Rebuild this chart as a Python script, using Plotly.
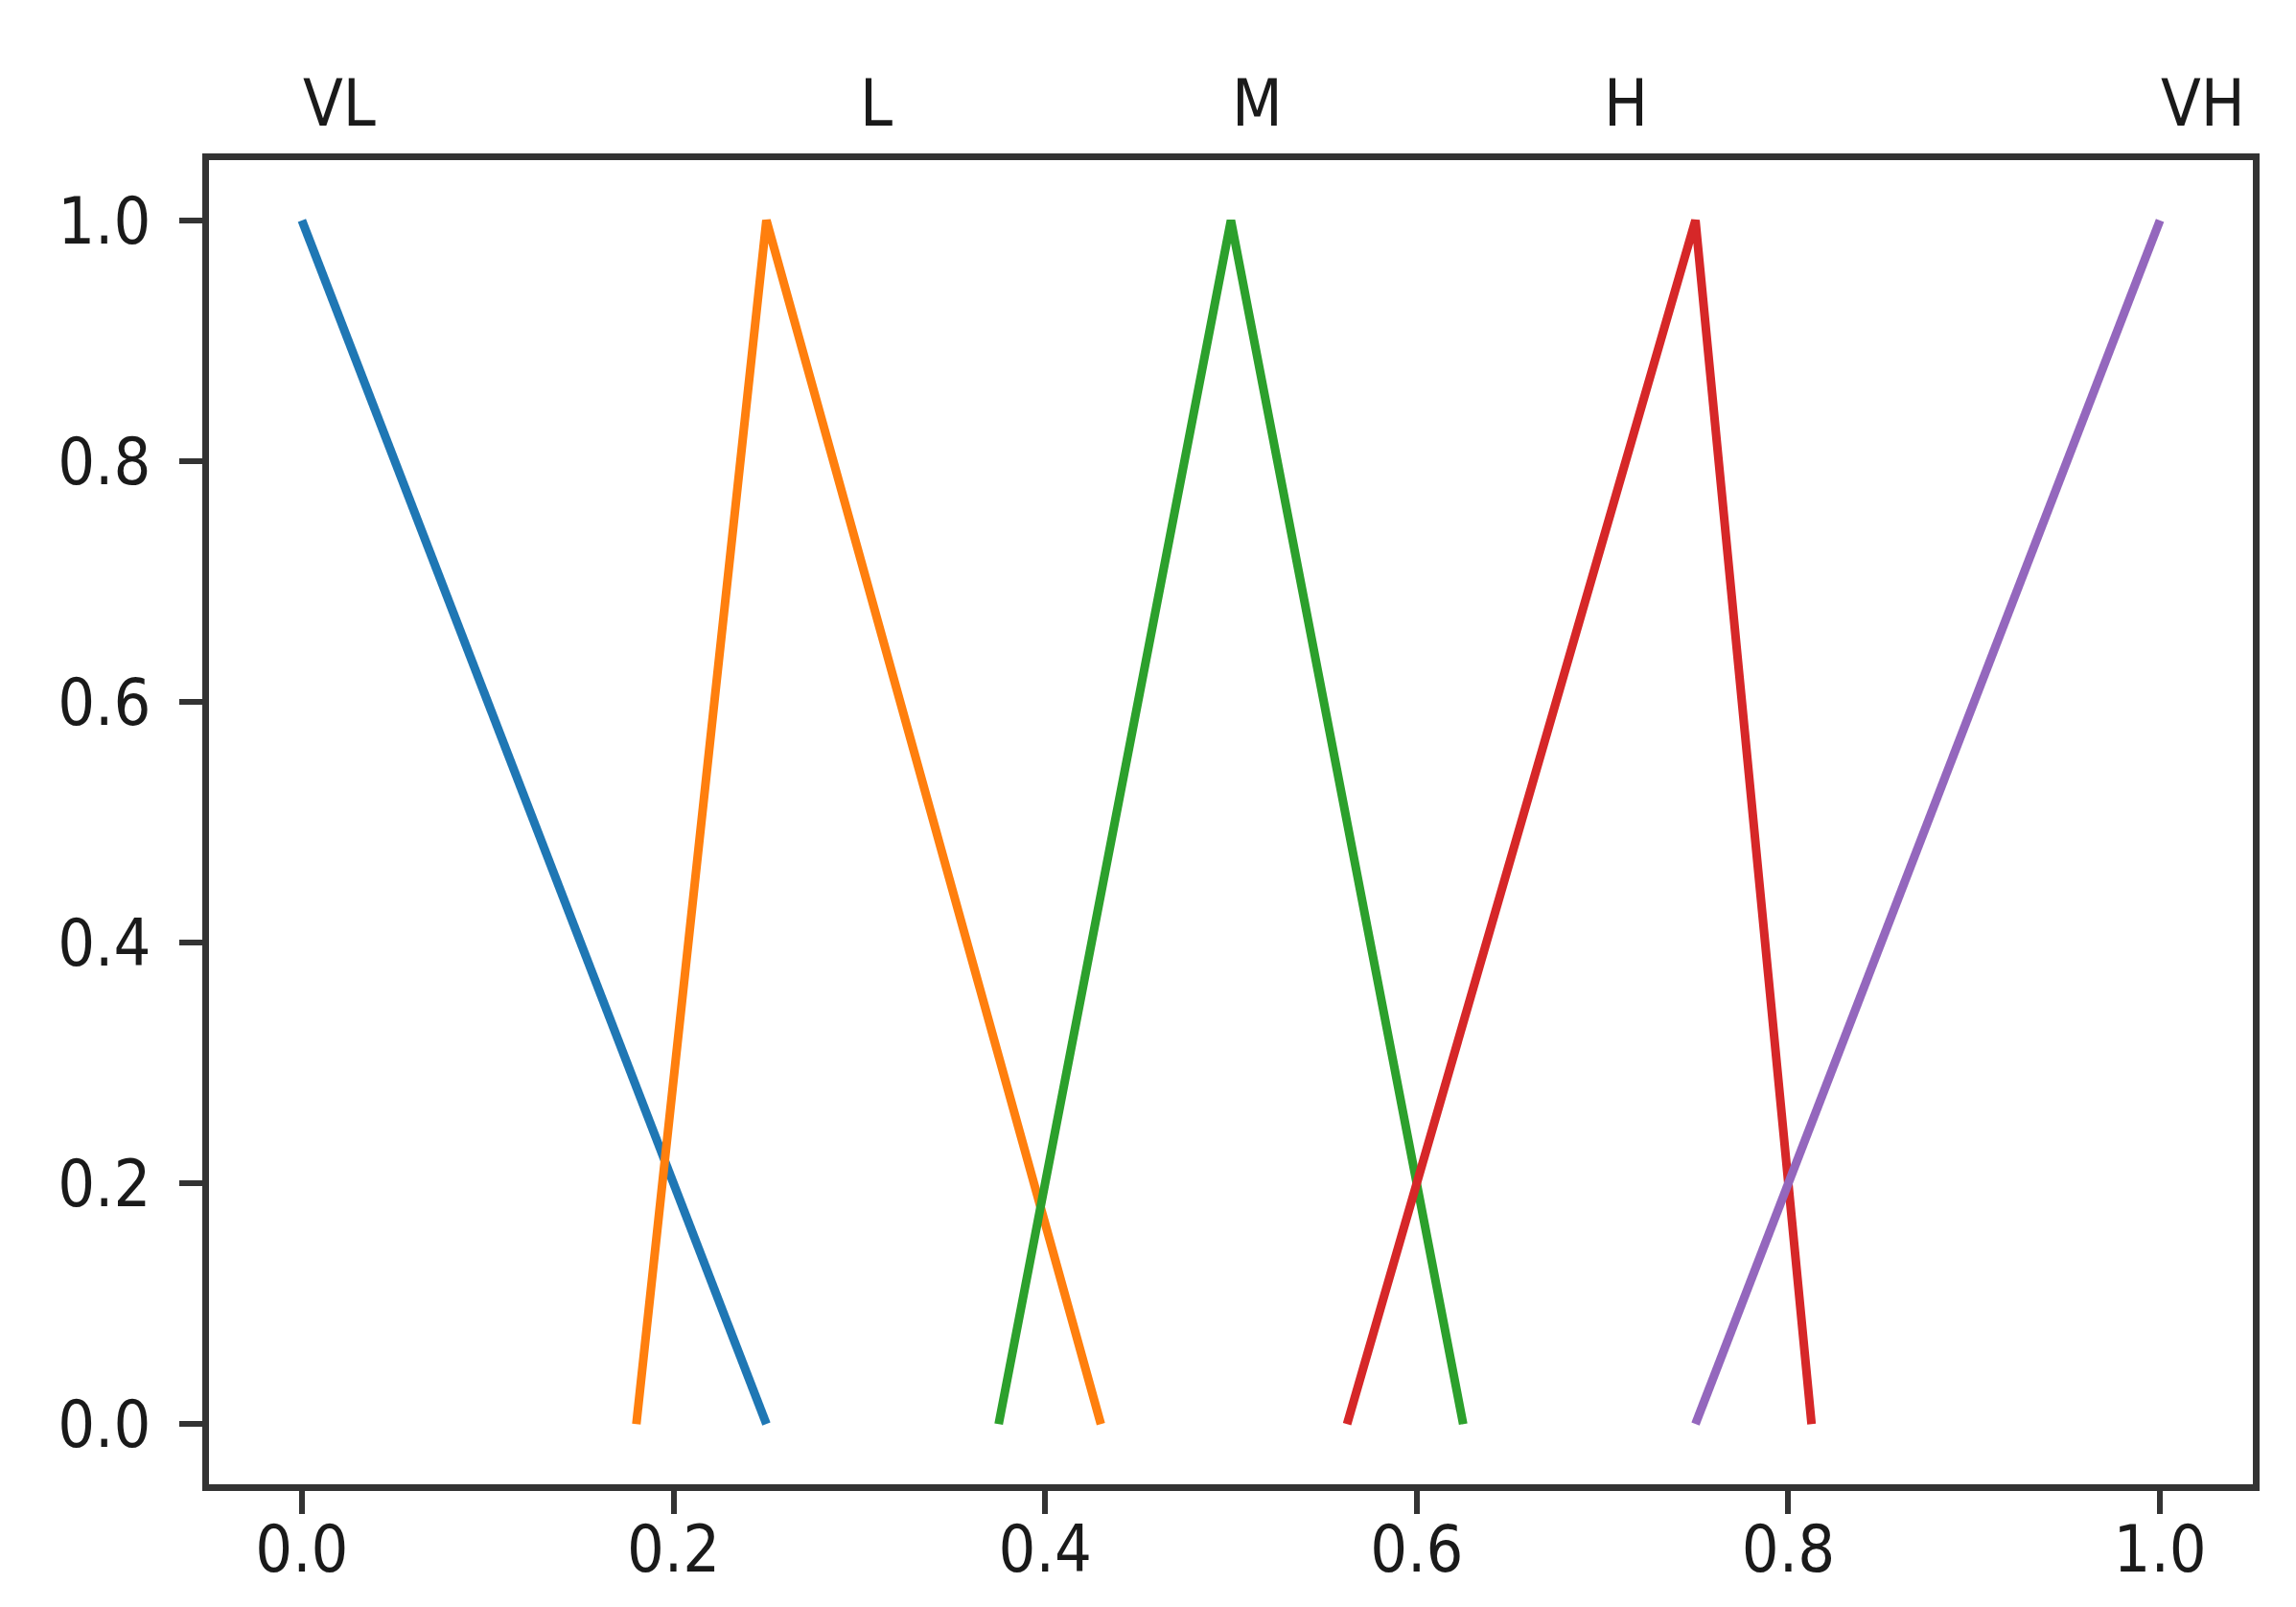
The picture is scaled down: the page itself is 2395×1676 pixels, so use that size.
# fuzzy membership functions VL / L / M / H / VH
import plotly.graph_objects as go

# set names, x breakpoints and membership values
names = ["VL", "L", "M", "H", "VH"]
xs = [
    [0.0, 0.25],
    [0.18, 0.25, 0.43],
    [0.375, 0.5, 0.625],
    [0.5625, 0.75, 0.8125],
    [0.75, 1.0],
]
ys = [
    [1.0, 0.0],
    [0.0, 1.0, 0.0],
    [0.0, 1.0, 0.0],
    [0.0, 1.0, 0.0],
    [0.0, 1.0],
]
colors = ["#1f77b4", "#ff7f0e", "#2ca02c", "#d62728", "#9467bd"]

# where the set labels sit above the axes
label_x = [0.0, 0.3, 0.5, 0.7, 1.0]
label_y = 1.043  # paper coords, just above the frame

tick_vals = [0.0, 0.2, 0.4, 0.6, 0.8, 1.0]
tick_text = ["0.0", "0.2", "0.4", "0.6", "0.8", "1.0"]

FONT = "DejaVu Sans Condensed, DejaVu Sans"

fig = go.Figure()
for name, x, y, c in zip(names, xs, ys, colors):
    fig.add_trace(go.Scatter(x=x, y=y, mode="lines", name=name,
                             line=dict(color=c, width=9)))

for name, x in zip(names, label_x):
    fig.add_annotation(x=x, xref="x", y=label_y, yref="paper", text=name,
                       showarrow=False, xanchor="left", yanchor="middle",
                       borderpad=0, font=dict(size=68, color="#1a1a1a"))

axis_style = dict(
    showline=True, linecolor="#333333", linewidth=7, mirror=True,
    showgrid=False, zeroline=False,
    ticks="outside", ticklen=24, tickwidth=6, tickcolor="#333333",
    tickvals=tick_vals, ticktext=tick_text,
    tickfont=dict(size=68, color="#1a1a1a"),
)
fig.update_xaxes(range=[-0.05, 1.05], ticklabelstandoff=-22, **axis_style)
fig.update_yaxes(range=[-0.05, 1.05], ticklabelstandoff=16, **axis_style)

fig.update_layout(
    width=2395, height=1676,
    margin=dict(l=210, r=53, t=159, b=136),
    font_family=FONT,
    plot_bgcolor="white", paper_bgcolor="white",
    showlegend=False,
)
fig.write_html("out.html")
